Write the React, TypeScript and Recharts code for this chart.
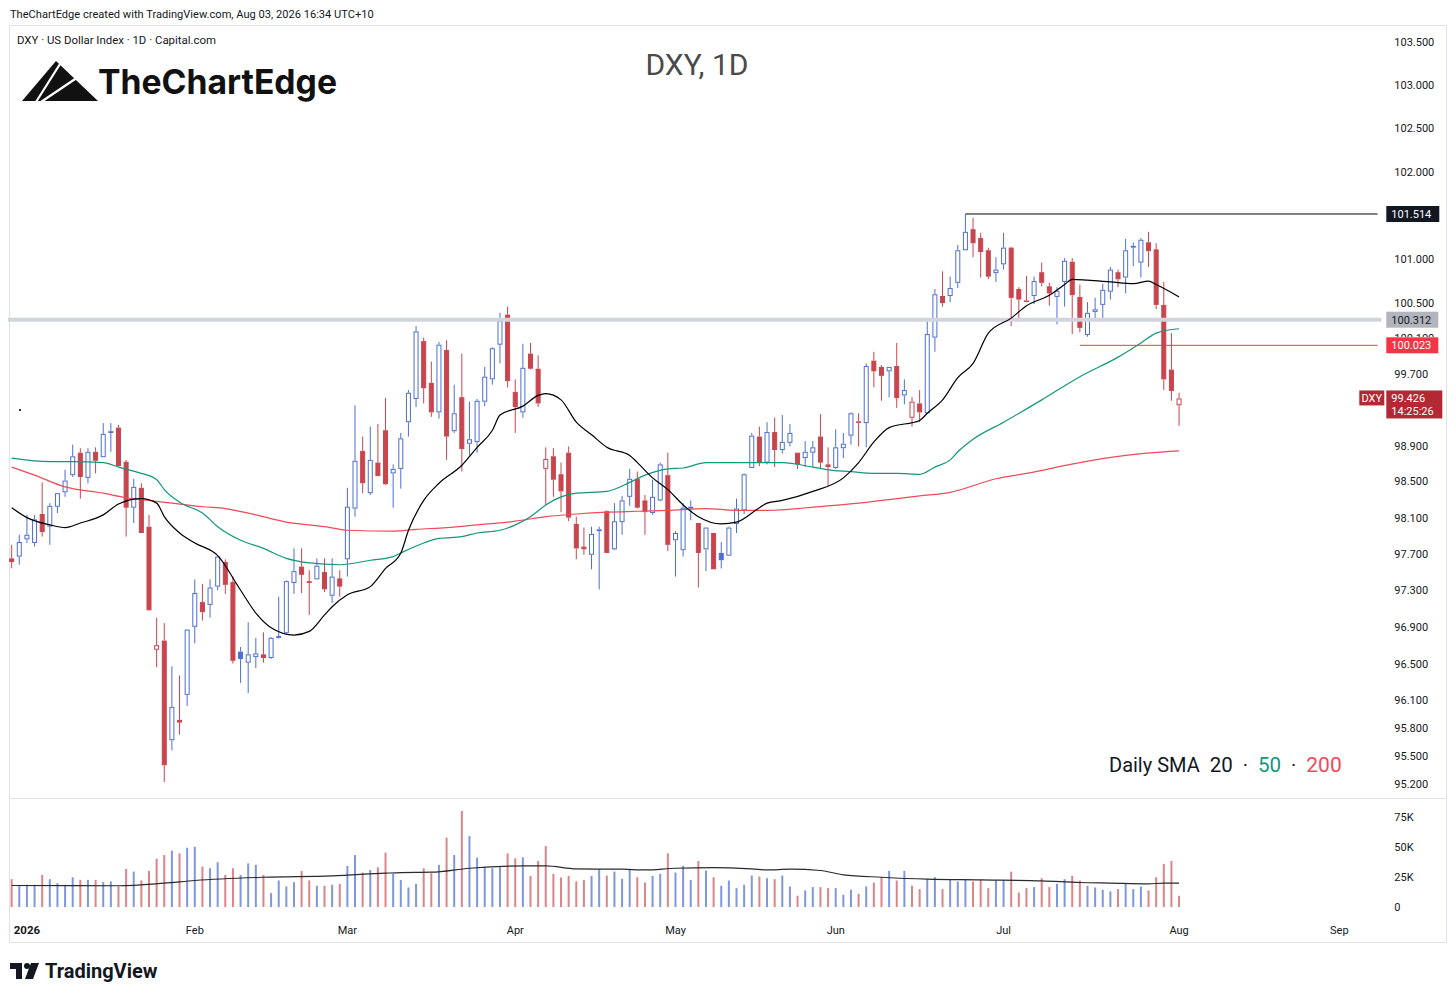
import React from "react";
import { ComposedChart, Bar, Line, XAxis, YAxis, ReferenceLine } from "recharts";

// DXY daily (Dec 30 2025 .. Aug 3 2026)
const opens = [97.65, 97.67, 97.86, 97.82, 98.14, 98.00, 98.22, 98.38, 98.57, 98.82,
  98.54, 98.83, 98.77, 99.04, 99.10, 98.72, 98.21, 98.43, 98.00, 96.65,
  96.75, 95.67, 95.89, 96.16, 96.90, 97.17, 97.14, 97.34, 97.61, 97.39,
  96.63, 96.51, 96.57, 96.60, 96.56, 96.78, 96.83, 97.38, 97.56, 97.38,
  97.42, 97.50, 97.24, 97.43, 97.64, 98.20, 98.84, 98.37, 98.71, 99.07,
  98.59, 98.64, 99.16, 99.42, 100.07, 99.60, 99.27, 99.97, 99.06, 99.44,
  98.92, 98.94, 99.39, 99.64, 100.03, 100.37, 99.50, 99.27, 99.93, 99.76,
  98.64, 98.78, 98.58, 98.82, 98.03, 97.78, 97.69, 97.95, 98.17, 97.75,
  98.05, 98.33, 98.53, 98.29, 98.15, 98.29, 98.57, 97.85, 97.74, 98.20,
  98.04, 97.75, 97.93, 97.71, 97.68, 98.03, 98.18, 98.65, 99.00, 98.71,
  99.05, 98.85, 98.93, 98.82, 98.76, 98.82, 99.00, 98.69, 98.65, 98.87,
  99.01, 99.16, 99.15, 99.85, 99.78, 99.73, 99.79, 99.46, 99.21, 99.37,
  99.26, 100.11, 100.58, 100.58, 100.73, 101.10, 101.34, 101.24, 101.10, 100.84,
  100.94, 101.13, 100.66, 100.52, 100.58, 100.85, 100.69, 100.57, 100.74, 100.97,
  100.57, 100.14, 100.40, 100.48, 100.63, 100.85, 100.79, 101.13, 100.96, 101.19,
  101.11, 100.48, 99.75, 99.35];

const highs = [97.80, 97.91, 98.13, 98.13, 98.49, 98.26, 98.37, 98.63, 98.91, 98.87,
  98.87, 98.88, 99.15, 99.15, 99.13, 98.74, 98.53, 98.48, 98.13, 97.00,
  96.94, 96.47, 96.37, 96.87, 97.42, 97.37, 97.42, 97.68, 97.64, 97.45,
  96.68, 96.95, 96.78, 96.84, 96.79, 97.23, 97.41, 97.76, 97.76, 97.52,
  97.65, 97.65, 97.65, 97.52, 98.43, 99.35, 99.00, 99.11, 99.14, 99.43,
  98.69, 99.04, 99.52, 100.24, 100.11, 99.84, 100.06, 100.08, 99.58, 99.93,
  99.39, 99.42, 99.78, 100.00, 100.39, 100.46, 99.64, 100.04, 100.05, 99.91,
  98.88, 98.87, 98.71, 98.89, 98.11, 97.99, 98.00, 98.00, 98.18, 98.26,
  98.34, 98.64, 98.61, 98.35, 98.52, 98.71, 98.82, 97.95, 98.26, 98.29,
  98.04, 97.99, 97.93, 97.83, 98.00, 98.31, 98.59, 99.04, 99.11, 99.16,
  99.21, 99.24, 99.14, 98.82, 98.95, 98.95, 99.25, 98.88, 99.08, 99.04,
  99.27, 99.26, 99.82, 99.95, 99.80, 99.78, 100.05, 99.64, 99.44, 99.52,
  100.33, 100.66, 100.86, 100.80, 101.16, 101.514, 101.47, 101.30, 101.13, 101.02,
  101.30, 101.14, 100.68, 100.81, 100.80, 100.96, 100.73, 100.68, 101.01, 101.01,
  100.71, 100.51, 100.56, 100.72, 100.91, 100.88, 101.23, 101.19, 101.24, 101.31,
  101.18, 100.74, 100.16, 99.49];

const lows = [97.54, 97.58, 97.82, 97.78, 97.89, 97.80, 98.15, 98.33, 98.55, 98.31,
  98.48, 98.59, 98.77, 98.83, 98.67, 97.89, 98.04, 97.93, 97.08, 96.46,
  95.22, 95.56, 95.73, 96.04, 96.72, 96.97, 97.00, 97.30, 97.26, 96.50,
  96.29, 96.18, 96.45, 96.51, 96.55, 96.77, 96.82, 97.26, 97.27, 97.03,
  97.42, 97.28, 97.16, 97.23, 97.45, 98.11, 98.37, 98.35, 98.56, 98.46,
  98.21, 98.42, 99.00, 99.33, 99.37, 99.22, 99.20, 98.74, 99.04, 98.61,
  98.79, 98.82, 99.34, 99.58, 99.82, 99.55, 99.04, 99.21, 99.75, 99.33,
  98.24, 98.33, 98.16, 98.06, 97.64, 97.69, 97.53, 97.31, 97.71, 97.74,
  97.91, 98.23, 98.20, 97.91, 98.13, 98.28, 97.73, 97.45, 97.67, 98.07,
  97.33, 97.51, 97.53, 97.54, 97.68, 97.93, 98.14, 98.65, 98.67, 98.69,
  98.66, 98.81, 98.89, 98.64, 98.66, 98.66, 98.64, 98.45, 98.64, 98.76,
  98.91, 98.89, 98.88, 99.55, 99.40, 99.44, 99.32, 99.36, 99.11, 99.16,
  99.26, 99.95, 100.46, 100.51, 100.67, 101.10, 101.02, 100.79, 100.77, 100.74,
  100.88, 100.24, 100.32, 100.51, 100.49, 100.69, 100.47, 100.26, 100.46, 100.15,
  100.17, 100.12, 100.33, 100.33, 100.54, 100.68, 100.61, 100.92, 100.79, 100.91,
  100.43, 99.52, 99.40, 99.12];

const closes = [97.61, 97.83, 97.91, 98.08, 97.94, 98.23, 98.37, 98.51, 98.78, 98.55,
  98.83, 98.73, 99.03, 99.06, 98.67, 98.21, 98.44, 97.93, 97.08, 96.70,
  95.40, 96.03, 95.86, 96.87, 97.27, 97.06, 97.33, 97.67, 97.36, 96.53,
  96.55, 96.60, 96.61, 96.56, 96.78, 96.80, 97.40, 97.51, 97.47, 97.40,
  97.57, 97.31, 97.45, 97.34, 98.22, 98.73, 98.48, 98.74, 98.56, 98.47,
  98.64, 98.98, 99.49, 100.18, 99.54, 99.27, 100.03, 99.00, 99.26, 98.86,
  98.97, 99.40, 99.67, 99.99, 100.30, 99.62, 99.33, 99.77, 99.76, 99.37,
  98.75, 98.52, 98.39, 98.10, 97.76, 97.75, 97.92, 97.97, 97.71, 98.06,
  98.29, 98.53, 98.21, 98.16, 98.33, 98.69, 97.80, 97.93, 98.21, 98.22,
  97.71, 97.99, 97.53, 97.63, 97.99, 98.20, 98.58, 99.01, 98.71, 99.05,
  98.85, 98.94, 99.04, 98.69, 98.83, 98.88, 98.71, 98.66, 98.88, 98.92,
  99.26, 99.17, 99.79, 99.73, 99.68, 99.78, 99.43, 99.52, 99.39, 99.27,
  100.15, 100.60, 100.50, 100.67, 101.10, 101.31, 101.18, 101.08, 100.80, 100.88,
  101.13, 100.56, 100.54, 100.53, 100.75, 100.73, 100.61, 100.64, 100.98, 100.59,
  100.22, 100.39, 100.43, 100.65, 100.88, 100.77, 101.10, 101.15, 101.22, 101.09,
  100.48, 99.64, 99.51, 99.426];

// volume in thousands
const volumes = [23.2, 17.7, 18.5, 18.5, 26.8, 23.2, 19.9, 18.5, 24.8, 22.6,
  22.6, 22.6, 20.7, 21.3, 17.1, 31.7, 29.5, 22.1, 30.1, 40.3,
  43.3, 46.9, 44.7, 49.4, 50.2, 33.7, 32.3, 37.3, 26.8, 32.3,
  26.8, 36.4, 35.1, 26.8, 11.6, 22.1, 17.1, 20.7, 30.1, 22.1,
  17.7, 17.7, 18.5, 19.3, 34.2, 43.3, 28.7, 30.9, 33.1, 45.3,
  27.6, 22.6, 16.3, 19.3, 32.3, 28.2, 35.1, 57.7, 43.3, 80.0,
  59.1, 41.1, 33.7, 32.3, 33.1, 44.7, 40.6, 41.4, 25.9, 38.4,
  50.8, 27.6, 24.6, 25.9, 21.3, 22.6, 25.9, 31.5, 26.2, 29.5,
  23.5, 30.9, 24.8, 20.4, 25.9, 27.6, 44.7, 28.7, 34.2, 22.6,
  38.4, 30.4, 24.8, 17.7, 22.1, 15.7, 18.5, 26.2, 25.4, 24.0,
  23.2, 26.2, 17.1, 9.4, 13.8, 16.6, 16.6, 15.7, 15.7, 10.2,
  14.4, 11.0, 17.1, 20.4, 24.8, 30.1, 22.1, 30.1, 17.7, 14.9,
  23.2, 24.8, 14.9, 22.6, 21.3, 22.6, 21.3, 22.6, 15.7, 22.1,
  22.1, 29.5, 12.1, 15.7, 16.6, 24.0, 16.6, 19.3, 23.2, 25.9,
  22.1, 17.7, 16.3, 14.4, 13.0, 14.9, 19.9, 14.9, 17.1, 13.8,
  24.8, 35.9, 38.4, 9.4];

// moving averages: [bar index, value]
const sma20Pts = [[0, 98.21], [2, 98.10], [5, 98.02], [7, 97.99], [9, 98.04], [12, 98.13], [14, 98.25],
  [17, 98.31], [19, 98.26], [20, 98.11], [22, 97.93], [24, 97.82], [27, 97.68], [30, 97.30], [32, 97.05],
  [34, 96.89], [37, 96.81], [39, 96.85], [41, 97.03], [42, 97.12], [44, 97.25], [47, 97.34], [49, 97.54],
  [51, 97.71], [52, 97.96], [54, 98.29], [56, 98.48], [59, 98.68], [61, 98.88], [63, 99.07], [64, 99.24],
  [67, 99.34], [69, 99.46], [70, 99.48], [72, 99.41], [74, 99.16], [76, 99.02], [78, 98.88], [81, 98.79],
  [82, 98.71], [84, 98.54], [86, 98.41], [88, 98.24], [90, 98.11], [93, 98.03], [95, 98.05], [98, 98.21],
  [99, 98.26], [101, 98.29], [105, 98.39], [109, 98.54], [111, 98.71], [113, 98.94], [115, 99.10],
  [119, 99.18], [120, 99.26], [122, 99.41], [124, 99.66], [126, 99.82], [128, 100.16], [131, 100.33],
  [133, 100.47], [136, 100.59], [138, 100.71], [139, 100.77], [141, 100.76], [144, 100.74], [147, 100.72],
  [149, 100.75], [150, 100.71], [153, 100.57]];

const sma50Pts = [[0, 98.76], [5, 98.72], [8, 98.72], [12, 98.71], [14, 98.66], [17, 98.59], [19, 98.52],
  [20, 98.41], [22, 98.27], [25, 98.15], [27, 98.00], [30, 97.85], [33, 97.76], [36, 97.65], [39, 97.60],
  [43, 97.58], [47, 97.63], [50, 97.67], [51, 97.71], [54, 97.82], [56, 97.87], [59, 97.89], [61, 97.93],
  [64, 97.96], [66, 98.02], [68, 98.11], [70, 98.24], [72, 98.33], [74, 98.37], [78, 98.39], [81, 98.49],
  [83, 98.57], [86, 98.64], [88, 98.65], [91, 98.71], [94, 98.71], [97, 98.71], [101, 98.71], [105, 98.66],
  [107, 98.63], [110, 98.61], [113, 98.59], [116, 98.59], [119, 98.58], [121, 98.66], [123, 98.74],
  [124, 98.83], [126, 98.97], [130, 99.16], [135, 99.41], [140, 99.67], [145, 99.89], [148, 100.05],
  [150, 100.16], [153, 100.21]];

const sma200Pts = [[0, 98.66], [3, 98.57], [7, 98.44], [12, 98.37], [15, 98.32], [18, 98.29], [21, 98.26],
  [25, 98.22], [28, 98.20], [32, 98.13], [36, 98.05], [41, 98.00], [44, 97.96], [50, 97.95], [53, 97.97],
  [57, 97.99], [61, 98.02], [66, 98.06], [70, 98.11], [74, 98.14], [78, 98.16], [82, 98.17], [86, 98.18],
  [91, 98.20], [95, 98.18], [99, 98.18], [107, 98.23], [111, 98.26], [119, 98.34], [123, 98.38],
  [129, 98.53], [133, 98.59], [140, 98.71], [146, 98.79], [151, 98.83], [153, 98.84]];

const volMaPts = [[0, 17.9], [14, 17.7], [20, 19.9], [24, 22.1], [33, 24.8], [42, 25.9], [49, 28.2],
  [51, 28.7], [55, 29.0], [60, 32.3], [67, 34.2], [70, 34.2], [74, 31.7], [80, 31.5], [83, 30.9],
  [87, 32.3], [92, 32.8], [97, 31.7], [99, 30.9], [102, 31.5], [106, 30.4], [109, 26.8], [114, 24.8],
  [120, 23.2], [127, 22.6], [135, 21.8], [140, 20.4], [144, 19.9], [149, 19.3], [151, 19.9], [153, 19.9]];

const monthTicks = [2, 24, 44, 66, 87, 108, 130, 153, 174];
const monthLabels = ["2026", "Feb", "Mar", "Apr", "May", "Jun", "Jul", "Aug", "Sep"];
const priceTicks = [95.2, 95.5, 95.8, 96.1, 96.5, 96.9, 97.3, 97.7, 98.1, 98.5, 98.9, 99.3, 99.7,
  100.1, 100.5, 101, 101.5, 102, 102.5, 103, 103.5];
const volTicks = [0, 25, 50, 75];

const resistance = 101.514;
const zone = 100.312;
const support = 100.023;
const lastPrice = 99.426;

const SLOTS = 180;
const FONT = "Roboto, 'Liberation Sans', Arial, sans-serif";
const BLUE = "#4d6fd3";
const RED = "#c8454e";
const VBLUE = "#7f97de";
const VRED = "#d9858a";
const TEXT = "#131722";

const rows: any[] = Array.from({ length: SLOTS }, (_, i) => {
  const has = i < closes.length;
  return {
    i,
    range: has ? [lows[i], highs[i]] : null,
    o: has ? opens[i] : null,
    h: has ? highs[i] : null,
    l: has ? lows[i] : null,
    c: has ? closes[i] : null,
    pc: has && i > 0 ? closes[i - 1] : null,
    v: has ? volumes[i] : null,
  };
});
sma20Pts.forEach(([i, v]) => (rows[i].s20 = v));
sma50Pts.forEach(([i, v]) => (rows[i].s50 = v));
sma200Pts.forEach(([i, v]) => (rows[i].s200 = v));
volMaPts.forEach(([i, v]) => (rows[i].vma = v));

const isUp = (p: any) => (p.pc == null ? p.c >= p.o : p.c >= p.pc);

function Candle(props: any) {
  const { x, y, width, height, payload } = props;
  if (!payload || payload.o == null || y == null) return null;
  const { o, h, l, c } = payload;
  const top = Math.min(y, y + height);
  const bottom = Math.max(y, y + height);
  const span = Math.log(h) - Math.log(l);
  const toY = (v: number) => (span > 0 ? top + ((Math.log(h) - Math.log(v)) / span) * (bottom - top) : top);
  const cx = x + width / 2;
  const color = isUp(payload) ? BLUE : RED;
  const hollow = c > o;
  const bt = toY(Math.max(o, c));
  const bb = toY(Math.min(o, c));
  return (
    <g>
      <line x1={cx} x2={cx} y1={top} y2={bt} stroke={color} strokeWidth={1} />
      <line x1={cx} x2={cx} y1={bb} y2={bottom} stroke={color} strokeWidth={1} />
      <rect x={cx - 2} y={bt + 0.5} width={4} height={Math.max(bb - bt - 1, 0.6)}
        fill={hollow ? "#ffffff" : color} stroke={color} strokeWidth={1} />
    </g>
  );
}

function VolBar(props: any) {
  const { x, y, width, height, payload } = props;
  if (!payload || payload.v == null) return null;
  const cx = x + width / 2;
  return <rect x={cx - 1} y={y} width={2} height={Math.max(height, 0)} fill={isUp(payload) ? VBLUE : VRED} />;
}

function AxisTag(props: any) {
  const { viewBox, text, fill, color, w, sub, tag } = props;
  if (!viewBox) return null;
  const right = viewBox.x + viewBox.width;
  const x0 = right + 5;
  const y0 = viewBox.y;
  return (
    <g>
      {tag && (
        <g>
          <rect x={right - 22} y={y0 - 8} width={25} height={15} fill={fill} />
          <text x={right - 9.5} y={y0 + 4} textAnchor="middle" fill={color} fontSize={11} fontFamily={FONT}>{tag}</text>
        </g>
      )}
      <rect x={x0} y={y0 - 8} width={w} height={sub ? 28 : 16} fill={fill} />
      <text x={x0 + 5} y={y0 + 4} fill={color} fontSize={11} fontFamily={FONT}>{text}</text>
      {sub && <text x={x0 + 5} y={y0 + 17} fill={color} fontSize={11} fontFamily={FONT}>{sub}</text>}
    </g>
  );
}

// 100.100 sits under the 100.023 tag: only its top half shows, as in TradingView
const PriceTick = (p: any) => {
  const v = p.payload.value;
  if (v === 101.5 || v === 99.3) return null;
  const label = (
    <text x={p.x} y={p.y + 4} fill={TEXT} fontSize={11} fontFamily={FONT} textAnchor="start">{v.toFixed(3)}</text>
  );
  if (v !== 100.1) return label;
  return (
    <g>
      <defs>
        <clipPath id="tick-100-1">
          <rect x={p.x - 2} y={p.y - 12} width={60} height={10.5} />
        </clipPath>
      </defs>
      <g clipPath="url(#tick-100-1)">{label}</g>
    </g>
  );
};

const VolTick = (p: any) => {
  const v = p.payload.value;
  return (
    <text x={p.x} y={p.y + 4} fill={TEXT} fontSize={11} fontFamily={FONT} textAnchor="start">{v === 0 ? "0" : v + "K"}</text>
  );
};

const DateTick = (p: any) => {
  const k = monthTicks.indexOf(Number(p.payload.value));
  if (k < 0) return null;
  return (
    <text x={p.x} y={p.y + 4} fill={TEXT} fontSize={k === 0 ? 11.5 : 11} fontFamily={FONT} textAnchor="middle"
      fontWeight={k === 0 ? 700 : 400}>{monthLabels[k]}</text>
  );
};

const PLOT_LEFT = 7.9;
const AXIS_W = 65.7;

export default function App() {
  return (
    <div style={{ position: "absolute", left: 0, top: 0, width: 1456, height: 999, background: "#ffffff", overflow: "hidden" }}>
      <div style={{ position: "absolute", left: 9, top: 25, width: 1438, height: 918, border: "1px solid #e0e3eb", boxSizing: "border-box" }} />
      <div style={{ position: "absolute", left: 9, top: 798, width: 1438, height: 1, background: "#e0e3eb" }} />

      <div style={{ position: "absolute", left: 0, top: 25 }}>
        <ComposedChart width={1447} height={773} data={rows} margin={{ top: 0, right: 0, bottom: 0, left: PLOT_LEFT }}>
          <XAxis dataKey="i" type="category" hide />
          <YAxis orientation="right" width={AXIS_W} scale="log" type="number" domain={[95.049, 103.699]}
            allowDataOverflow ticks={priceTicks} interval={0} tickSize={0} tickMargin={13}
            axisLine={false} tickLine={false} tick={PriceTick} />
          <ReferenceLine y={zone} stroke="#d1d4dc" strokeWidth={4} />
          <Bar dataKey="range" shape={Candle} isAnimationActive={false} />
          <Line dataKey="s200" type="monotone" stroke="#ef4a58" strokeWidth={1.2} dot={false} connectNulls isAnimationActive={false} />
          <Line dataKey="s50" type="monotone" stroke="#12977f" strokeWidth={1.2} dot={false} connectNulls isAnimationActive={false} />
          <Line dataKey="s20" type="monotone" stroke="#000000" strokeWidth={1.2} dot={false} connectNulls isAnimationActive={false} />
          <ReferenceLine segment={[{ x: 125, y: resistance }, { x: SLOTS - 1, y: resistance }]} stroke="#000000" strokeWidth={1} />
          <ReferenceLine segment={[{ x: 140, y: support }, { x: SLOTS - 1, y: support }]} stroke="#f23645" strokeWidth={1} />
          <ReferenceLine y={resistance} stroke="transparent"
            label={<AxisTag text="101.514" fill="#131722" color="#ffffff" w={53} />} />
          <ReferenceLine y={zone} stroke="transparent"
            label={<AxisTag text="100.312" fill="#b2b5be" color="#131722" w={52} />} />
          <ReferenceLine y={support} stroke="transparent"
            label={<AxisTag text="100.023" fill="#f23645" color="#ffffff" w={52} />} />
          <ReferenceLine y={lastPrice} stroke="transparent"
            label={<AxisTag text="99.426" sub="14:25:26" tag="DXY" fill="#b22833" color="#ffffff" w={56} />} />
        </ComposedChart>
      </div>

      <div style={{ position: "absolute", left: 0, top: 799 }}>
        <ComposedChart width={1447} height={144} data={rows} margin={{ top: 0, right: 0, bottom: 0, left: PLOT_LEFT }}>
          <XAxis dataKey="i" type="category" ticks={monthTicks} interval={0} height={36} tickSize={0} tickMargin={23}
            axisLine={false} tickLine={false} tick={DateTick} />
          <YAxis orientation="right" width={AXIS_W} type="number" domain={[0, 90]} allowDataOverflow
            ticks={volTicks} interval={0} tickSize={0} tickMargin={13} axisLine={false} tickLine={false} tick={VolTick} />
          <Bar dataKey="v" shape={VolBar} isAnimationActive={false} />
          <Line dataKey="vma" type="monotone" stroke="#2a2a2a" strokeWidth={1.2} dot={false} connectNulls isAnimationActive={false} />
        </ComposedChart>
      </div>

      <svg width={1456} height={999} style={{ position: "absolute", left: 0, top: 0, pointerEvents: "none" }}>
        <text x={10} y={18} fontSize={11.1} fill={TEXT} fontFamily={FONT}>
          TheChartEdge created with TradingView.com, Aug 03, 2026 16:34 UTC+10
        </text>
        <text x={17} y={44} fontSize={11.4} fill={TEXT} fontFamily={FONT}>
          DXY · US Dollar Index · 1D · Capital.com
        </text>
        <polygon points="22,101 56,61 98,101" fill="#111111" />
        <line x1={60} y1={64} x2={36} y2={102} stroke="#ffffff" strokeWidth={2.2} />
        <line x1={41} y1={102} x2={84} y2={73} stroke="#ffffff" strokeWidth={2.2} />
        <text x={98} y={94} fontSize={34} fontWeight={700} fill="#111111" fontFamily="Inter, 'Open Sans', sans-serif"
          textLength={239} lengthAdjust="spacingAndGlyphs">TheChartEdge</text>
        <text x={697} y={75} fontSize={30} fill="#4a4a4a" fontFamily={FONT} textAnchor="middle">DXY, 1D</text>
        <rect x={19} y={409} width={2} height={2} fill="#333333" />
        <text x={1109} y={772} fontSize={20} fontFamily={FONT} fill="#131722">
          Daily SMA<tspan dx={10} fontSize={20.5}>20</tspan>
          <tspan dx={10} fill="#131722">·</tspan>
          <tspan dx={10} fontSize={20.5} fill="#12977f">50</tspan>
          <tspan dx={10} fill="#131722">·</tspan>
          <tspan dx={10} fontSize={21} fill="#ef4a58">200</tspan>
        </text>
        <path d="M10 963 H22 V979 H16 V969 H10 Z" fill="#131722" />
        <circle cx={27} cy={966} r={3} fill="#131722" />
        <polygon points="31,963 39,963 33,979 25,979" fill="#131722" />
        <text x={45} y={978} fontSize={20} fontWeight={700} fill="#131722" fontFamily={FONT}>TradingView</text>
      </svg>
    </div>
  );
}
